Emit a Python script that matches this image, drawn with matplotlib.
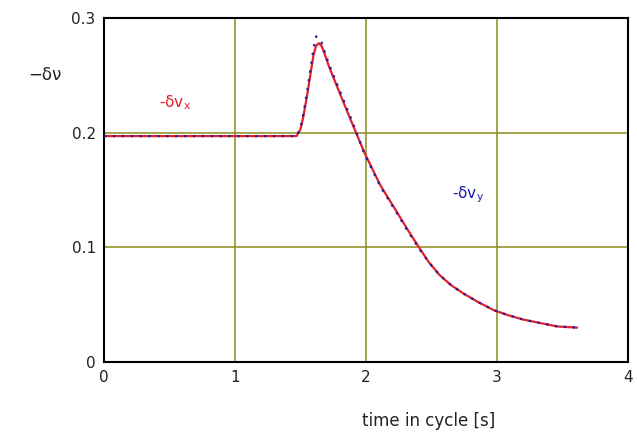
import numpy as np
import matplotlib.pyplot as plt

# curve: time [s] and -delta nu
t = [0.0, 0.5, 1.0, 1.47, 1.50, 1.52, 1.55, 1.58, 1.60, 1.62, 1.64, 1.66, 1.68, 1.72, 1.78, 1.88, 1.99, 2.11, 2.24, 2.32, 2.41, 2.48, 2.56, 2.65, 2.74, 2.86, 2.98, 3.08, 3.20, 3.33, 3.46, 3.61]
dvx = [0.197, 0.197, 0.197, 0.197, 0.203, 0.213, 0.232, 0.254, 0.268, 0.276, 0.278, 0.276, 0.270, 0.257, 0.240, 0.212, 0.182, 0.154, 0.130, 0.115, 0.099, 0.087, 0.076, 0.067, 0.060, 0.052, 0.045, 0.041, 0.037, 0.034, 0.031, 0.030]
dvy = [0.197, 0.197, 0.197, 0.197, 0.204, 0.215, 0.235, 0.258, 0.274, 0.284, 0.282, 0.279, 0.272, 0.259, 0.242, 0.214, 0.181, 0.153, 0.129, 0.114, 0.098, 0.087, 0.076, 0.067, 0.060, 0.052, 0.045, 0.041, 0.037, 0.034, 0.031, 0.030]

xticks = [0, 1, 2, 3, 4]
yticks = [0, 0.1, 0.2, 0.3]
ytick_labels = ["0", "0.1", "0.2", "0.3"]

grid_col = "#8c8c1e"

fig = plt.figure(figsize=(6.37, 4.38), dpi=100)
ax = fig.add_axes([104 / 637, 1 - 362 / 438, 524 / 637, 344 / 438])

ax.plot(t, dvx, color="#e0202a", lw=1.6, zorder=3)
ax.plot(t, dvy, color="#1a1aa0", lw=1.6, ls=(0, (1, 3)), zorder=4)

ax.set_xlim(0, 4)
ax.set_ylim(0, 0.3)
ax.set_xticks(xticks)
ax.set_yticks(yticks)
ax.set_yticklabels(ytick_labels)
ax.tick_params(length=0, labelsize=11, colors="#222222", pad=6)
ax.grid(True, color=grid_col, lw=1.1)
for s in ax.spines.values():
    s.set_linewidth(1.5)
    s.set_color("black")

ax.set_xlabel("time in cycle [s]", fontsize=12, color="#222222")
ax.xaxis.set_label_coords(0.62, -0.145)

fig.text(28 / 637, 1 - 75 / 438, "\u2212\u03b4\u03bd", fontsize=12, va="center", color="#222222")
ax.text(0.54, 0.226, "-\u03b4v$_\\mathregular{x}$", color="#e0202a", fontsize=11, ha="center", va="center")
ax.text(2.78, 0.146, "-\u03b4v$_\\mathregular{y}$", color="#1a1aa0", fontsize=11, ha="center", va="center")

fig.savefig("out.png", dpi=100)
